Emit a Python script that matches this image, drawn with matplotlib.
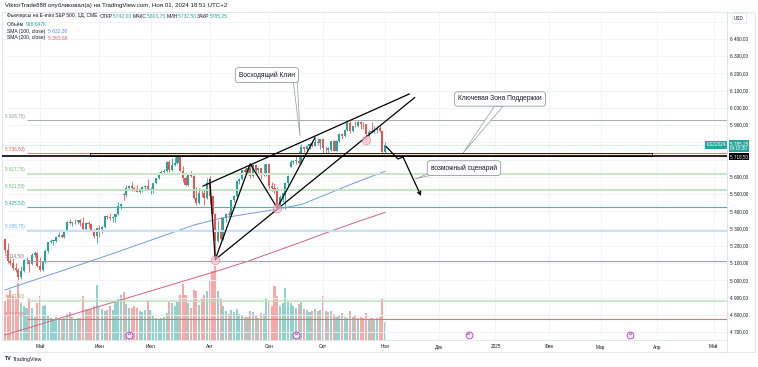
import numpy as np
import pandas as pd
import matplotlib.pyplot as plt
import matplotlib.transforms as mtransforms
from matplotlib.patches import Rectangle, Polygon

plt.rcParams['font.family'] = ['Liberation Sans', 'DejaVu Sans']

# ES1! daily bars, Apr 12 2024 .. Nov 01 2024
holidays = ['2024-05-27', '2024-06-19', '2024-07-04', '2024-09-02']
future_holidays = ['2024-11-28', '2024-12-25', '2025-01-01', '2025-01-09',
                   '2025-01-20', '2025-02-17', '2025-04-18']

opens = [5240, 5173, 5112, 5101, 5072, 5061, 5017, 5056, 5116, 5117,
         5093, 5145, 5161, 5081, 5058, 5104, 5168, 5221, 5228, 5229,
         5254, 5263, 5254, 5280, 5341, 5330, 5336, 5339, 5349, 5335,
         5296, 5333, 5329, 5290, 5258, 5301, 5300, 5308, 5371, 5370,
         5364, 5369, 5383, 5429, 5500, 5495, 5536, 5550, 5536, 5528,
         5511, 5532, 5541, 5546, 5523, 5530, 5564, 5592, 5622, 5628,
         5632, 5689, 5640, 5670, 5679, 5715, 5636, 5593, 5553, 5612,
         5604, 5475, 5447, 5507, 5504, 5476, 5562, 5487, 5387, 5226,
         5280, 5240, 5359, 5384, 5376, 5466, 5487, 5575, 5586, 5640,
         5629, 5653, 5603, 5667, 5642, 5651, 5617, 5620, 5673, 5547,
         5538, 5521, 5426, 5481, 5506, 5564, 5660, 5686, 5693, 5695,
         5678, 5774, 5763, 5779, 5793, 5782, 5805, 5798, 5819, 5766,
         5767, 5757, 5808, 5753, 5808, 5849, 5837, 5872, 5913, 5868,
         5895, 5894, 5918, 5907, 5904, 5850, 5863, 5861, 5874, 5883,
         5864, 5742]
highs = [5245, 5218, 5129, 5127, 5102, 5069, 5084, 5121, 5134, 5120,
         5159, 5168, 5165, 5136, 5113, 5180, 5222, 5240, 5231, 5255,
         5279, 5271, 5283, 5344, 5358, 5338, 5353, 5352, 5355, 5370,
         5339, 5345, 5332, 5295, 5304, 5319, 5315, 5371, 5379, 5392,
         5373, 5383, 5456, 5450, 5505, 5551, 5553, 5569, 5542, 5553,
         5535, 5546, 5553, 5587, 5540, 5565, 5594, 5626, 5639, 5645,
         5691, 5697, 5710, 5715, 5720, 5718, 5662, 5605, 5618, 5634,
         5610, 5540, 5536, 5528, 5529, 5591, 5607, 5490, 5390, 5352,
         5370, 5368, 5391, 5404, 5468, 5496, 5578, 5595, 5640, 5652,
         5665, 5676, 5673, 5676, 5656, 5653, 5672, 5676, 5675, 5570,
         5564, 5540, 5494, 5507, 5571, 5610, 5696, 5697, 5730, 5750,
         5793, 5776, 5781, 5796, 5801, 5827, 5825, 5820, 5822, 5777,
         5776, 5808, 5812, 5814, 5853, 5853, 5880, 5924, 5923, 5896,
         5927, 5928.75, 5922, 5917, 5906, 5870, 5916, 5893, 5897, 5901,
         5866, 5803.75]
lows = [5157, 5102, 5089, 5057, 5048, 5004, 5010, 5050, 5092, 5046,
        5090, 5134, 5080, 5053, 5052, 5100, 5160, 5215, 5205, 5222,
        5249, 5244, 5248, 5278, 5329, 5316, 5327, 5325, 5315, 5284,
        5290, 5303, 5286, 5245, 5215, 5252, 5274, 5305, 5353, 5349,
        5339, 5336, 5380, 5411, 5467, 5484, 5530, 5518, 5518, 5510,
        5505, 5514, 5530, 5523, 5501, 5507, 5560, 5585, 5615, 5625,
        5630, 5631, 5635, 5664, 5675, 5632, 5570, 5545, 5545, 5600,
        5474, 5438, 5440, 5485, 5438, 5470, 5443, 5342, 5120, 5220,
        5232, 5235, 5340, 5366, 5372, 5457, 5485, 5560, 5580, 5616,
        5624, 5593, 5600, 5627, 5618, 5586, 5608, 5606, 5524, 5521,
        5504, 5420, 5424, 5452, 5416, 5551, 5655, 5673, 5674, 5675,
        5676, 5743, 5755, 5761, 5772, 5780, 5786, 5760, 5732, 5740,
        5732, 5750, 5751, 5750, 5803, 5819, 5830, 5868, 5857, 5862,
        5889, 5890, 5877, 5875, 5815, 5837, 5852, 5855, 5852, 5858,
        5736, 5732.5]
closes = [5173, 5112, 5101, 5072, 5061, 5017, 5056, 5116, 5117, 5093,
          5145, 5161, 5081, 5058, 5104, 5168, 5221, 5228, 5229, 5254,
          5263, 5254, 5280, 5341, 5330, 5336, 5339, 5349, 5335, 5296,
          5333, 5329, 5290, 5258, 5301, 5300, 5308, 5371, 5370, 5364,
          5369, 5383, 5429, 5442, 5495, 5536, 5550, 5536, 5528, 5511,
          5532, 5541, 5546, 5523, 5530, 5564, 5592, 5622, 5628, 5632,
          5689, 5640, 5670, 5679, 5715, 5636, 5593, 5553, 5612, 5604,
          5475, 5447, 5507, 5504, 5476, 5562, 5487, 5387, 5226, 5280,
          5240, 5359, 5384, 5376, 5466, 5487, 5575, 5586, 5640, 5629,
          5653, 5603, 5667, 5642, 5651, 5617, 5620, 5673, 5547, 5538,
          5521, 5426, 5481, 5506, 5564, 5606, 5686, 5693, 5695, 5678,
          5774, 5763, 5779, 5793, 5782, 5805, 5798, 5819, 5766, 5767,
          5757, 5808, 5753, 5808, 5849, 5837, 5872, 5913, 5868, 5895,
          5894, 5918, 5907, 5904, 5850, 5863, 5861, 5874, 5883, 5864,
          5742, 5785.25]
volume_k = [1740, 2020, 2250, 1950, 1870, 2550, 1650, 1500, 1420, 1870,
            1420, 1050, 1650, 1950, 1500, 1580, 1100, 1000, 950, 1050,
            980, 900, 1000, 1150, 1250, 1050, 950, 980, 1000, 1950,
            1400, 1350, 1400, 1500, 2480, 1500, 1400, 1300, 1350, 1500,
            1350, 1700, 1850, 2000, 2150, 1600, 1450, 1420, 1500, 1420,
            1300, 1250, 1350, 1800, 1350, 1100, 1000, 950, 1000, 1050,
            1200, 1720, 1650, 1500, 1700, 2000, 2500, 2000, 1650, 1450,
            2250, 2200, 1580, 1870, 2020, 2200, 2700, 3100, 3300, 2200,
            1870, 1500, 1300, 1150, 1350, 1250, 1400, 1150, 1100, 1050,
            1050, 1300, 1250, 1100, 1000, 1200, 1150, 1870, 1720, 1500,
            2400, 1950, 1500, 1650, 2330, 1720, 1650, 1500, 1450, 1600,
            1720, 1400, 1350, 1250, 1300, 1400, 1300, 1350, 1950, 1300,
            1250, 1300, 1150, 1050, 1100, 1200, 1050, 1000, 1280, 1050,
            1100, 1000, 1050, 1000, 1200, 950, 1000, 950, 1000, 1050,
            1870, 820]

sma_bars = [0, 10, 20, 30, 40, 50, 60, 70, 80, 90, 100, 110, 120, 130, 141]
sma100 = [4944, 4997, 5049, 5102, 5155, 5210, 5265, 5320, 5360, 5385,
          5410, 5440, 5503, 5567, 5632.30]
sma200 = [4683, 4730, 4778, 4825, 4872, 4919, 4966, 5013, 5060, 5110,
          5166, 5222, 5280, 5336, 5393.66]

levels = [5928.75, 5736.50, 5617.75, 5521.50, 5425.50, 5288.75, 5114.50, 4881.00, 4777.50]
zone_low, zone_high = 5718.50, 5736.50
last_price = 5785.25
roll_dates = ['2024-06-18', '2024-09-17', '2024-12-17', '2025-03-18']
month_names = {1: '2025', 2: 'Фев', 3: 'Мар', 4: 'Апр', 5: 'Май', 6: 'Июн',
               7: 'Июл', 8: 'Авг', 9: 'Сен', 10: 'Окт', 11: 'Ноя', 12: 'Дек'}

# styles
level_line_colors = ['#a9abb3', '#e57373', '#c8e6c9', '#b9dfba', '#4db6ac',
                     '#c6e0f7', '#a0a3aa', '#bfe0c0', '#e57373']
level_line_widths = [0.7, 0.7, 1.4, 1.2, 0.8, 1.4, 0.8, 1.1, 0.8]
level_text_colors = ['#9598a1', '#ef5350', '#66bb6a', '#66bb6a', '#26a69a',
                     '#64b5f6', '#787b86', '#c0a060', '#e57373']
UP, DOWN = '#26a69a', '#ef5350'
VUP, VDOWN = '#92d2cc', '#f7a9a7'
TXT = '#131722'

W, H = 758, 367


def fmt(v):
    return f"{v:,.2f}".replace(",", " ").replace(".", ",")


dates = pd.bdate_range('2024-04-12', '2024-11-01')
dates = dates[~dates.isin(pd.to_datetime(holidays))]
future = pd.bdate_range('2024-11-04', '2025-05-30')
future = future[~future.isin(pd.to_datetime(future_holidays))]
all_dates = dates.append(future)

months = np.asarray(all_dates.month)
tick_pos = [i for i in range(1, len(months)) if months[i] != months[i - 1]]
tick_lab = [month_names[months[i]] for i in tick_pos]
roll_pos = [int(np.searchsorted(all_dates, pd.Timestamp(d))) for d in roll_dates]

fig = plt.figure(figsize=(W / 100, H / 100), dpi=100, facecolor='white')
ax = fig.add_axes([2 / W, 1 - 340 / H, 725 / W, 328 / H])
axv = ax.twinx()
axv.set_zorder(ax.get_zorder() - 1)
ax.patch.set_visible(False)

XL = (-1.1, 267.9)
YL = (4653.6, 6556.7)
ax.set_xlim(*XL)
ax.set_ylim(*YL)
axv.set_ylim(0, 14675)
for a in (ax, axv):
    a.set_xticks([])
    a.set_yticks([])
for s in ax.spines.values():
    s.set_color('#e0e3eb')
    s.set_linewidth(0.6)
for s in axv.spines.values():
    s.set_visible(False)

# grid
ax.vlines(tick_pos, *YL, color='#f0f3fa', lw=0.6, zorder=0)
ax.hlines(np.arange(4700, 6600, 100), *XL, color='#f0f3fa', lw=0.6, zorder=0)

x = np.arange(len(closes))
o, h, l, c = map(np.array, (opens, highs, lows, closes))
up = c >= o

# volume
axv.bar(x, volume_k, width=0.78, color=np.where(up, VUP, VDOWN), lw=0)

# moving averages
ax.plot(sma_bars, sma100, color='#6f9be8', lw=0.7, zorder=2)
ax.plot(sma_bars, sma200, color='#d9607f', lw=0.7, zorder=2)

# candles
col = np.where(up, UP, DOWN)
ax.vlines(x, l, h, colors=col, lw=0.6, zorder=3)
ax.bar(x, np.maximum(np.abs(c - o), 3), bottom=np.minimum(o, c), width=0.78,
       color=col, lw=0, zorder=3)

# horizontal levels with labels
for lv, lc, lw, tc in zip(levels, level_line_colors, level_line_widths, level_text_colors):
    ax.hlines(lv, 8, XL[1], color=lc, lw=lw, zorder=4)
    ax.annotate(fmt(lv) + ')', (0, lv), xytext=(0, 1), textcoords='offset points',
                fontsize=3.3, color=tc, ha='left', va='bottom', zorder=6)

ax.hlines(last_price, *XL, color=UP, lw=0.5, linestyles=(0, (1, 2)), alpha=0.7, zorder=4)
ax.add_patch(Rectangle((31.5, zone_low), 208.5, zone_high - zone_low,
                       fc='#fde1bf', ec='#222222', lw=0.7, zorder=4))
ax.hlines(zone_low, *XL, color='black', lw=1.2, zorder=5)

# rising wedge drawing
ax.plot([73.5, 150], [5547, 6081], color='black', lw=0.9, zorder=6)
ax.plot([78, 152], [5120, 6060], color='black', lw=0.9, zorder=6)
ax.plot([76, 78, 91, 101, 115], [5585, 5120, 5676, 5420, 5827], color='black', lw=0.9, zorder=6)
ax.scatter([78, 101, 134], [5120, 5420, 5815], s=38, fc='#f8bbd0', ec='#e57373',
           lw=0.5, alpha=0.7, zorder=7)

# possible scenario path
ax.plot([141.5, 145.8, 147.7], [5775, 5704, 5715], color='black', lw=0.9, zorder=6)
ax.annotate('', xy=(154.4, 5489), xytext=(147.7, 5715),
            arrowprops=dict(arrowstyle='->', color='black', lw=0.9,
                            shrinkA=0, shrinkB=0, mutation_scale=6), zorder=6)

# callouts
box = dict(boxstyle='round,pad=0.55,rounding_size=0.5', fc='white', ec='#9598a1', lw=0.6)
callouts = [
    ('Восходящий Клин', (97.2, 6191), [(107.0, 6150), (108.5, 6150), (109.5, 5835)]),
    ('Ключевая Зона Поддержки', (183.7, 6052), [(181.6, 6010), (184.8, 6010), (170, 5739)]),
    ('возможный сценарий', (170.3, 5651), [(158.2, 5625), (160.6, 5618), (152.1, 5588)]),
]
for label, pos, tail in callouts:
    ax.add_patch(Polygon(tail, closed=True, fc='white', ec='#9598a1', lw=0.5, zorder=8))
    ax.text(pos[0], pos[1], label, fontsize=4.8, color=TXT, ha='center', va='center',
            bbox=box, zorder=9)

# right price axis
ry = mtransforms.blended_transform_factory(fig.transFigure, ax.transData)
for p in range(4700, 6401, 100):
    if p in (5700, 5800):
        continue
    fig.text(730 / W, p, fmt(p), transform=ry, fontsize=3.4, color=TXT, va='center')
fig.text(726 / W, last_price, 'ESZ2024', transform=ry, fontsize=3.3, color='white',
         ha='right', va='center', bbox=dict(boxstyle='square,pad=0.25', fc=UP, ec='none'))
fig.text(730 / W, 5779, fmt(last_price) + '\n04:18:30', transform=ry, fontsize=3.3,
         color='white', va='center', linespacing=1.1,
         bbox=dict(boxstyle='square,pad=0.25', fc=UP, ec='none'))
fig.text(730 / W, zone_low, fmt(zone_low), transform=ry, fontsize=3.3, color='white',
         va='center', bbox=dict(boxstyle='square,pad=0.25', fc='black', ec='none'))
fig.text(734 / W, 1 - 18 / H, 'USD', fontsize=3.3, color=TXT, va='center',
         bbox=dict(boxstyle='square,pad=0.5', fc='white', ec='#e0e3eb', lw=0.5))

# time axis
tx = mtransforms.blended_transform_factory(ax.transData, fig.transFigure)
for p, lab in zip(tick_pos, tick_lab):
    fig.text(p, 1 - 347 / H, lab, transform=tx, fontsize=3.4, color=TXT,
             ha='center', va='center')
for p in roll_pos:
    ax.plot([p], [1 - 335 / H], marker='o', ms=5, mfc='#f3e5f5', mec='#9c27b0',
            mew=0.5, transform=tx, clip_on=False, zorder=10)
    fig.text(p, 1 - 335 / H, '⇄', transform=tx, fontsize=2.6, color='#9c27b0',
             ha='center', va='center', zorder=11)

# frame lines
for (x0, y0, x1, y1) in [(2, 352, 755, 352), (727, 12, 727, 352), (755, 12, 755, 352),
                         (727, 12, 755, 12)]:
    fig.add_artist(plt.Line2D([x0 / W, x1 / W], [1 - y0 / H, 1 - y1 / H],
                              color='#e0e3eb', lw=0.6))

# header / legend
r = fig.canvas.get_renderer()


def text_run(px, py, parts, size):
    for s, color in parts:
        t = fig.text(px / W, 1 - py / H, s, color=color, fontsize=size, va='center')
        px += t.get_window_extent(r).width


text_run(5, 5, [('ViktorTrade888 опубликовал(а) на TradingView.com, Ноя 01, 2024 18:51 UTC+2', TXT)], 4.4)
text_run(7, 16, [('Фьючерсы на E-mini S&P 500, 1Д, CME  ', TXT),
                 ('ОТКР', TXT), ('5742,00 ', UP), ('МАКС', TXT), ('5803,75 ', UP),
                 ('МИН', TXT), ('5732,50 ', UP), ('ЗАКР', TXT), ('5785,25', UP)], 3.6)
text_run(7, 24, [('Объём  ', TXT), ('916,647K', UP)], 3.6)
text_run(7, 31, [('SMA (100, close)  ', TXT), ('5 632,30', '#5b8def')], 3.6)
text_run(7, 38, [('SMA (200, close)  ', TXT), ('5 393,66', '#d9607f')], 3.6)

fig.text(5 / W, 1 - 359 / H, 'TV', fontsize=3.8, fontweight='bold', color=TXT, va='center')
fig.text(13 / W, 1 - 359 / H, 'TradingView', fontsize=3.8, color=TXT, va='center')

fig.savefig('out.png', dpi=100)
